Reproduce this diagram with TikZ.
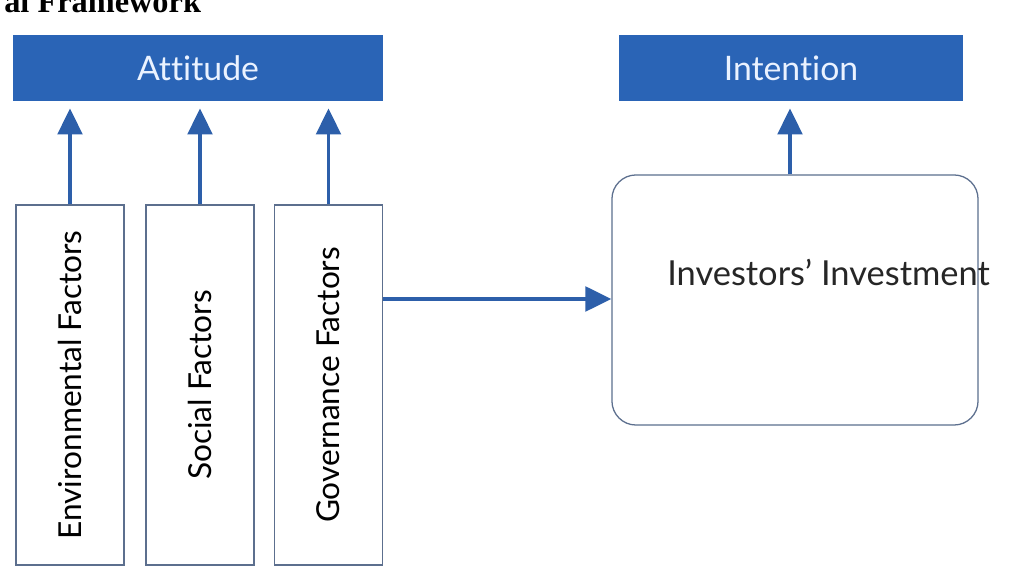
\documentclass[tikz,border=0pt]{standalone}
\usepackage{fontspec}
\setmainfont[Ligatures=NoCommon]{Lato}
\newfontfamily\headfont{Liberation Serif}
\usepackage{tikz}
\usetikzlibrary{arrows.meta,positioning}
\definecolor{fwblue}{HTML}{2A64B6}
\definecolor{fwarrow}{HTML}{2D5FAA}
\definecolor{fwedge}{HTML}{5C6F8E}
\definecolor{fwtext}{HTML}{EAF2FF}

\begin{document}
\begin{tikzpicture}[x=0.025cm,y=-0.025cm,
  bar/.style={fill=fwblue,draw=none,minimum width=#1,minimum height=1.65cm,
    inner sep=0pt,text=fwtext,font=\fontsize{24}{28}\selectfont},
  factor/.style={draw=fwedge,fill=white,line width=0.9pt,minimum width=2.7cm,
    minimum height=9cm,inner sep=0pt,font=\fontsize{22.5}{26}\selectfont},
  invbox/.style={draw=fwedge,fill=white,line width=0.9pt,rounded corners=0.6cm,
    minimum width=9.15cm,minimum height=6.25cm,inner sep=0pt},
  arr/.style={-{Triangle[length=6.5mm,width=6.2mm]},fwarrow,line width=2.2pt},
  lab/.style={font=\fontsize{24.5}{28}\selectfont,text=black!85}]
\clip (0,0) rectangle (1015,582);
\fill[white] (0,0) rectangle (1015,582);
% heading, cut off at the top
\node[anchor=base west,inner sep=0pt,font=\headfont\bfseries\fontsize{23}{27}\selectfont] (head) at (4,13) {al Framework};
% top bars
\node[bar=9.25cm] (att) at (198,68) {Attitude};
\node[bar=8.6cm] (int) at (791,68) {Intention};
% factor boxes
\node[factor] (env) at (70,385) {\rotatebox{90}{Environmental Factors}};
\node[factor] (soc) at (200,385) {\rotatebox{90}{Social Factors}};
\node[factor] (gov) at (328.5,385) {\rotatebox{90}{Governance Factors}};
% investment box
\node[invbox] (inv) at (795,300) {};
\node[lab,anchor=west,inner sep=0pt] (invlab) at (667,272) {Investors’ Investment};
% arrows
\draw[arr,shorten >=0.18cm] (env.north) -- (env.north |- att.south);
\draw[arr,shorten >=0.18cm] (soc.north) -- (soc.north |- att.south);
\draw[arr,shorten >=0.18cm] (gov.north) -- (gov.north |- att.south);
\draw[arr] (gov.east |- 0,299) -- (inv.west |- 0,299);
\draw[arr,shorten >=0.18cm] (inv.north -| 790,0) -- (int.south -| 790,0);
\end{tikzpicture}
\end{document}
